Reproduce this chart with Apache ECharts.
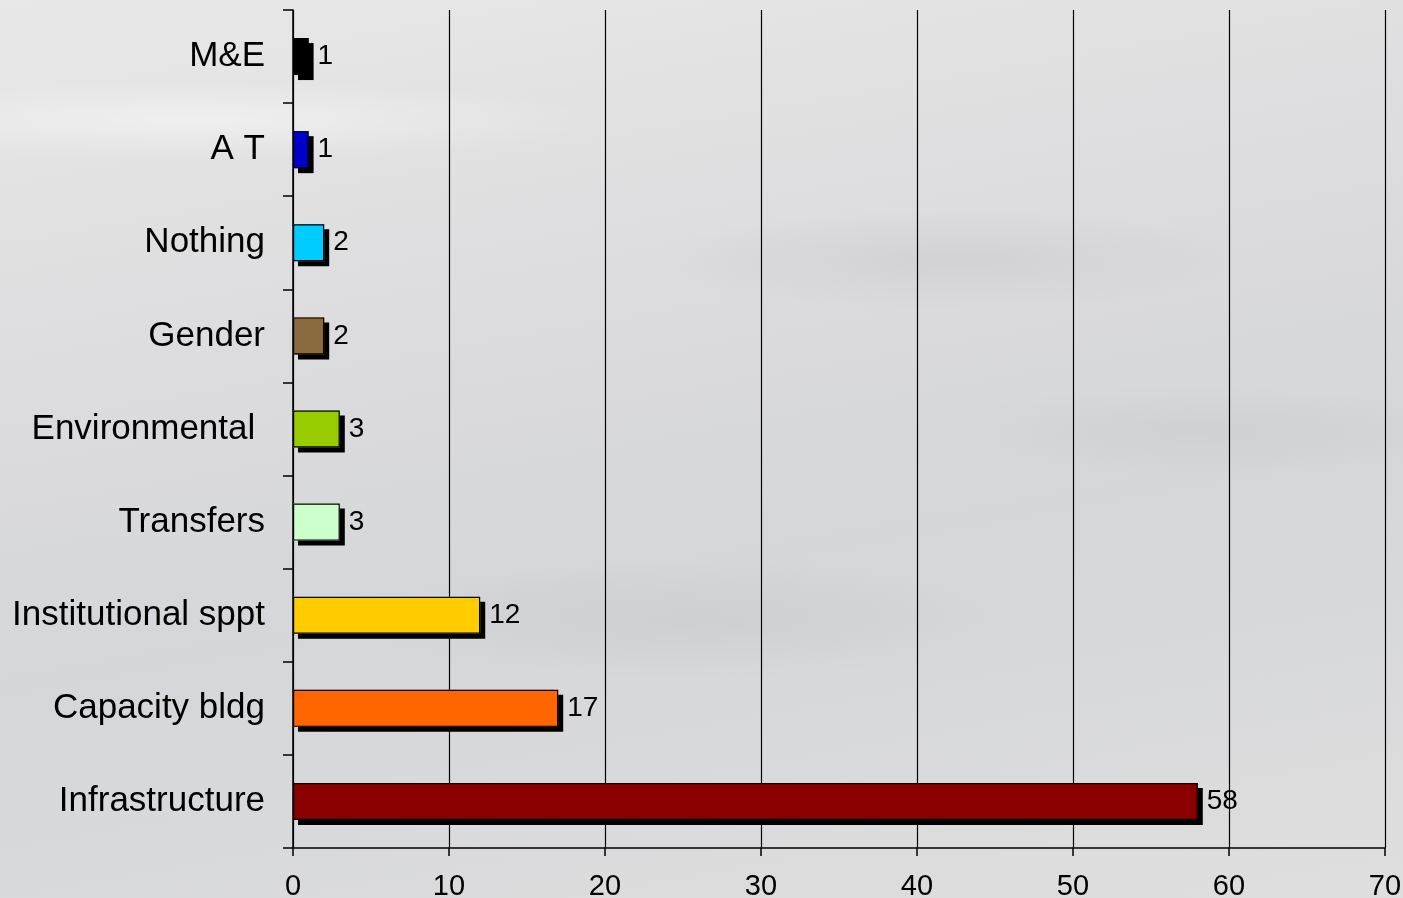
<!DOCTYPE html>
<html><head><meta charset="utf-8">
<script src="https://cdn.jsdelivr.net/npm/echarts@6/dist/echarts.min.js"></script>
<style>
html,body{margin:0;padding:0;width:1403px;height:898px;overflow:hidden;}
body{background:
 radial-gradient(ellipse 300px 50px at 950px 260px, rgba(175,175,180,0.22), transparent),
 radial-gradient(ellipse 260px 45px at 1200px 430px, rgba(180,185,195,0.22), transparent),
 radial-gradient(ellipse 350px 60px at 700px 620px, rgba(175,175,180,0.2), transparent),
 radial-gradient(ellipse 400px 40px at 200px 120px, rgba(250,250,250,0.5), transparent),
 linear-gradient(170deg,#e8e8e8 0%,#dcdcde 35%,#d5d6d9 60%,#dedede 100%);}
#c{width:1403px;height:898px;}
</style></head><body><div id="c"></div>
<script>
const categories = ["Infrastructure","Capacity bldg","Institutional sppt","Transfers","Environmental ","Gender","Nothing","A T","M&E"];
const values = [58,17,12,3,3,2,2,1,1];
const barColors = ["#8B0000","#FF6600","#FFCC00","#CCFFCC","#99CC00","#8B6B3D","#00CCFF","#0000CC","#000000"];
const xTicks = [0,10,20,30,40,50,60,70];

const font = 'Liberation Sans, Arial';
const chart = echarts.init(document.getElementById('c'));
chart.setOption({
  backgroundColor:'transparent',
  animation:false,
  grid:{left:293,right:18,top:10,bottom:50,containLabel:false,outerBoundsMode:'none'},
  xAxis:{type:'value',min:0,max:70,interval:10,
    axisLine:{show:true,lineStyle:{color:'#000',width:1.5}},
    axisTick:{show:true,length:8,lineStyle:{color:'#000',width:1.5}},
    axisLabel:{color:'#000',fontSize:29,fontFamily:font,margin:24,
      formatter:v=>xTicks.includes(v)?String(v):''},
    splitLine:{show:true,lineStyle:{color:'#000',width:1.2}}},
  yAxis:{type:'category',data:categories,
    axisLine:{show:true,lineStyle:{color:'#000',width:1.5}},
    axisTick:{show:true,length:10,lineStyle:{color:'#000',width:1.5}},
    axisLabel:{color:'#000',fontSize:35,fontFamily:font,margin:28}},
  series:[
   {type:'bar',barWidth:37,barGap:'-100%',
    data:values.map((v,i)=>({value:v,itemStyle:{color:barColors[i]}})),
    itemStyle:{borderWidth:0,shadowColor:'#000',shadowOffsetX:5,shadowOffsetY:5,shadowBlur:0},
    label:{show:true,position:'right',distance:9,color:'#000',fontSize:28,fontFamily:font}
   },
   {type:'bar',barWidth:37,barGap:'-100%',silent:true,z:3,
    data:values,
    itemStyle:{color:'rgba(0,0,0,0)',borderColor:'#000',borderWidth:1.2}
   }]
});
</script></body></html>
